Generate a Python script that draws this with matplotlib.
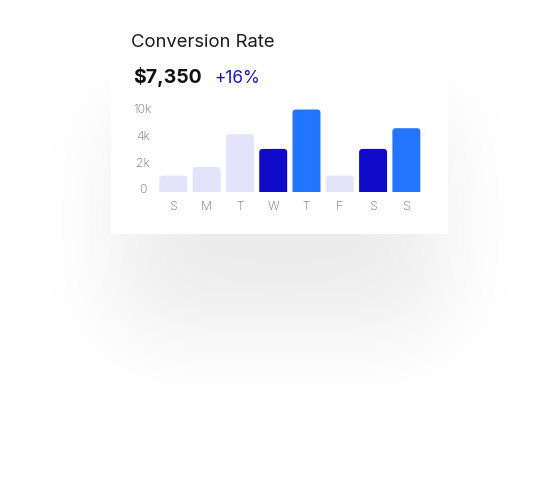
import numpy as np
import matplotlib
matplotlib.use('Agg')
import matplotlib.pyplot as plt
from matplotlib.patches import Rectangle, FancyBboxPatch

plt.rcParams['font.family'] = ['Inter', 'DejaVu Sans']

# data
days = ['S', 'M', 'T', 'W', 'T', 'F', 'S', 'S']
values = [1250, 1900, 4350, 3250, 6200, 1250, 3250, 4800]
groups = ['light', 'light', 'light', 'dark', 'bright', 'light', 'dark', 'bright']
tick_vals = [0, 2000, 4000, 6000]
tick_labels = ['0', '2k', '4k', '10k']
title = 'Conversion Rate'
total = '$7,350'
change = '+16%'

colours = {'light': '#e3e3fa', 'dark': '#1009c9', 'bright': '#2375ff'}

W, H = 559, 485
fig = plt.figure(figsize=(W / 100, H / 100), dpi=100)

# background layer in pixel coordinates
bg = fig.add_axes([0, 0, 1, 1])
bg.set_xlim(0, W)
bg.set_ylim(H, 0)
bg.axis('off')


def blur_profile(n, a, b, sigma):
    # step [a, b] convolved with a gaussian
    xs = np.arange(n)
    step = ((xs >= a) & (xs <= b)).astype(float)
    k = np.arange(-4 * sigma, 4 * sigma + 1)
    g = np.exp(-0.5 * (k / sigma) ** 2)
    g /= g.sum()
    return np.convolve(step, g, mode='same')


sx = blur_profile(W, 120, 440, 45)
sy = blur_profile(H, 110, 330, 45)
alpha = 0.08 * np.outer(sy, sx)
shadow = np.zeros((H, W, 4))
shadow[..., 3] = alpha
bg.imshow(shadow, extent=(0, W, H, 0), aspect='auto', zorder=0)

# card
bg.add_patch(Rectangle((111, -5), 337, 239.5, facecolor='white', edgecolor='none', zorder=1))

bg.text(131, 47.3, title, fontsize=13.3, color='#1b1b1b', va='baseline', ha='left', zorder=2)
bg.text(133, 83.3, total, fontsize=14.0, fontweight='bold', color='#111111', va='baseline', ha='left', zorder=2)
bg.text(214, 83.3, change, fontsize=12.4, color='#1a14cc', va='baseline', ha='left', zorder=2)

# chart
left, right = 156.7, 423.0
bottom, top = 193.3, 106.5
ax = fig.add_axes([left / W, (H - bottom) / H, (right - left) / W, (bottom - top) / H])
ax.set_facecolor('none')
x = np.arange(len(days))
bars = ax.bar(x, values, width=0.84, color=[colours[g] for g in groups])
ax.set_xlim(-0.5, len(days) - 0.5)
ax.set_ylim(0, 6500)

# round the top corners of each bar
px_x = (len(days)) / (right - left)
px_y = 6500 / (bottom - top)
r = 3.5 * px_x
for b in bars:
    b.set_visible(False)
    x0, w, h = b.get_x(), b.get_width(), b.get_height()
    ext = 4 * px_y
    p = FancyBboxPatch((x0, -ext), w, h + ext,
                       boxstyle='round,pad=0,rounding_size=%f' % r,
                       mutation_aspect=px_y / px_x,
                       facecolor=b.get_facecolor(), edgecolor='none')
    ax.add_patch(p)

ax.set_xticks(x)
ax.set_xticklabels(days)
ax.set_yticks(tick_vals)
ax.set_yticklabels(tick_labels)
for lab in ax.get_yticklabels():
    lab.set_va('baseline')
    lab.set_ha('center')
ax.tick_params(axis='both', length=0, labelsize=8.8, labelcolor='#6c6c6c')
ax.tick_params(axis='y', pad=9.9)
ax.tick_params(axis='x', pad=5.2)
for lab in ax.get_xticklabels() + ax.get_yticklabels():
    lab.set_fontweight('light')
for s in ax.spines.values():
    s.set_visible(False)

fig.savefig('out.png', dpi=100)
